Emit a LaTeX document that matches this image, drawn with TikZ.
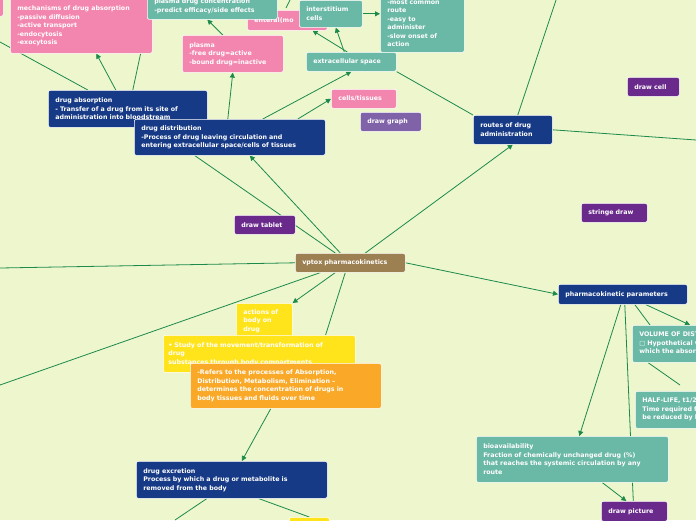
\documentclass[tikz,border=0pt]{standalone}
\usepackage{fontspec}
\setmainfont{DejaVu Sans}
\usetikzlibrary{arrows.meta}
\pgfdeclarelayer{bg}\pgfdeclarelayer{paper}\pgfsetlayers{paper,bg,main}
\definecolor{bgc}{HTML}{EEF6CE}
\definecolor{cblue}{HTML}{173A86}
\definecolor{cteal}{HTML}{6AB8A6}
\definecolor{cpink}{HTML}{F386AE}
\definecolor{cpurple}{HTML}{6A2A8C}
\definecolor{clav}{HTML}{7F62A8}
\definecolor{cyel}{HTML}{FFE41C}
\definecolor{corange}{HTML}{F9A927}
\definecolor{cbrown}{HTML}{9C8052}
\definecolor{cedge}{HTML}{1B8A4B}
\tikzset{
 x=1pt,y=-1pt,
 box/.style={draw=white,line width=0.6pt,rounded corners=2pt,anchor=north west,align=left,
   font=\fontsize{6.3}{8.5}\selectfont\bfseries,execute at begin node={\hyphenpenalty=10000\relax},text=white,inner xsep=7pt,inner ysep=2pt},
 bx/.style 2 args={box,minimum width=#1,minimum height=#2,text width=#1-14pt},
 link/.style={draw=cedge,line width=0.8pt},
 arr/.style={link,-{Triangle[length=5pt,width=5pt]}},
}
\begin{document}
\begin{tikzpicture}
\useasboundingbox (0,0) rectangle (696,520);
\begin{pgfonlayer}{paper}\fill[bgc] (0,0) rectangle (696,520);\end{pgfonlayer}
\clip (0,0) rectangle (696,520);
% nodes
\node[bx={20pt}{18pt},fill=cpink] (lp) at (-17,-2) {};
\node[bx={142pt}{55pt},fill=cpink] (mech) at (10,-2) {mechanisms of drug absorption\\-passive diffusion\\-active transport\\-endocytosis\\-exocytosis};
\node[bx={80pt}{20pt},fill=cpink] (enteral) at (247,10) {enteral(mo};
\node[bx={130pt}{26pt},fill=cteal] (pconc) at (147,-7) {plasma drug concentration\\-predict efficacy/side effects};
\node[bx={63pt}{27pt},fill=cteal] (inter) at (299,0) {interstitium\\cells};
\node[bx={84pt}{58pt},fill=cteal] (common) at (380,-6) {-most common\\route\\-easy to\\administer\\-slow onset of\\action};
\node[bx={101pt}{37pt},fill=cpink] (plasma) at (182,35) {plasma\\-free drug=active\\-bound drug=inactive};
\node[bx={90pt}{19pt},fill=cteal] (extra) at (306,52) {extracellular space};
\node[bx={65pt}{19pt},fill=cpink] (cells) at (331,89) {cells/tissues};
\node[bx={61pt}{19pt},fill=clav] (graph) at (360,112) {draw graph};
\node[bx={159pt}{37pt},fill=cblue] (abs) at (48,90) {drug absorption\\- Transfer of a drug from its site of\\administration into bloodstream};
\node[bx={191pt}{36pt},fill=cblue] (dist) at (134,119) {drug distribution\\-Process of drug leaving circulation and\\entering extracellular space/cells of tissues};
\node[bx={79pt}{29pt},fill=cblue] (routes) at (473,115) {routes of drug\\administration};
\node[bx={52pt}{19pt},fill=cpurple] (cell) at (627,77) {draw cell};
\node[bx={66pt}{19pt},fill=cpurple] (stringe) at (581,203) {stringe draw};
\node[bx={61pt}{19pt},fill=cpurple] (tablet) at (234,215) {draw tablet};
\node[bx={110pt}{19pt},fill=cbrown] (root) at (295,253) {vptox pharmacokinetics};
\node[bx={129pt}{20pt},fill=cblue] (params) at (558,284) {pharmacokinetic parameters};
\node[bx={160pt}{37pt},fill=cteal] (vol) at (632,325) {VOLUME OF DISTRIBUTION\\\char"25A1\ Hypothetical volume into\\which the absorbed drug};
\node[bx={160pt}{37pt},fill=cteal] (half) at (635,391) {HALF-LIFE, t1/2\\Time required for the conc. to\\be reduced by half};
\node[bx={56pt}{35pt},fill=cyel] (actions) at (236,303) {actions of\\body on\\drug};
\node[box,fill=cyel,minimum width=191pt,minimum height=37pt,text width=182pt,inner xsep=5pt,inner ysep=3pt] (study) at (163,335) {\textbullet\ Study of the movement/transformation of\\drug\\substances through body compartments};
\node[bx={191pt}{45pt},fill=corange] (refers) at (190,363) {-Refers to the processes of Absorption,\\Distribution, Metabolism, Elimination --\\determines the concentration of drugs in\\body tissues and fluids over time};
\node[bx={192pt}{46pt},fill=cteal] (bio) at (476,436) {bioavailability\\Fraction of chemically unchanged drug (\%)\\that reaches the systemic circulation by any\\route};
\node[bx={66pt}{20pt},fill=cpurple] (pic) at (601,501) {draw picture};
\node[bx={191pt}{37pt},fill=cblue] (excr) at (136,461) {drug excretion\\Process by which a drug or metabolite is\\removed from the body};
\node[bx={40pt}{20pt},fill=cyel] (ybit) at (289,517) {};
% off-screen ends
\coordinate (eL1) at (0,268); \coordinate (eL2) at (0,385); \coordinate (eL3) at (0,42);
\coordinate (eUp) at (556,0); \coordinate (eR) at (696,140); \coordinate (eV) at (680,385);
\coordinate (eE1) at (175,520); \coordinate (eTop) at (290,0);
\begin{pgfonlayer}{bg}
\draw[arr] ([xshift=15pt]root.north) -- (routes.south);
\draw[arr] (root.east) -- (params.west);
\draw[arr] ([xshift=-10pt]root.north) -- ([xshift=20pt]dist.south);
\draw[link] ([xshift=-15pt]root.north) -- ([xshift=-35pt]dist.south);
\draw[arr] ([xshift=-15pt]root.south) -- (actions.north east);
\draw[link] ([xshift=-5pt]root.south) -- ([xshift=-30pt]study.north east);
\draw[link] (root.west) -- (eL1);
\draw[link] ([xshift=-30pt]root.south) -- (eL2);
\draw[arr] ([xshift=-15pt]refers.south) -- ([xshift=10pt]excr.north);
\draw[link] ([xshift=-25pt]excr.south) -- (eE1);
\draw[link] ([xshift=27pt]excr.south) -- (ybit.north);
\draw[arr] ([xshift=-2pt]dist.north) -- (plasma.south);
\draw[arr] ([xshift=33pt]dist.north) -- (extra.south);
\draw[arr] ([xshift=68pt]dist.north) -- (cells.west);
\draw[arr] ([xshift=-12pt]abs.north) -- ([xshift=15pt]mech.south);
\draw[link] ([xshift=5pt]abs.north) -- ([xshift=-12pt]mech.south east);
\draw[link] ([xshift=-40pt]abs.north) -- (eL3);
\draw[arr] ([xshift=-10pt]plasma.north) -- ([xshift=-5pt]pconc.south);
\draw[link] (eTop) -- ++(-4,8);
\draw[arr] ([xshift=-7pt]extra.north) -- ([xshift=5pt]inter.south);
\draw[arr] ([xshift=-4pt]extra.north) -- ([xshift=-15pt]enteral.south east);
\draw[arr] (inter.east) -- (common.west |- inter.east);
\draw[link] (extra.south east) -- (routes.north west);
\draw[link] ([xshift=5pt]routes.north) -- (eUp);
\draw[link] (routes.east) -- (eR);
\draw[arr] ([xshift=23pt]params.south) -- ([xshift=58pt]vol.north west);
\draw[link] ([xshift=12pt]params.south) -- ([xshift=18pt]vol.north west);
\draw[link] ([xshift=16pt]vol.south west) -- (eV);
\draw[arr] ([xshift=-2pt]params.south) -- ([xshift=7pt]bio.north);
\draw[link] ([xshift=2pt]params.south) -- ([xshift=-1pt]pic.north);
\draw[arr] ([xshift=30pt]bio.south) -- ([xshift=-8pt]pic.north);
\end{pgfonlayer}
\end{tikzpicture}
\end{document}
